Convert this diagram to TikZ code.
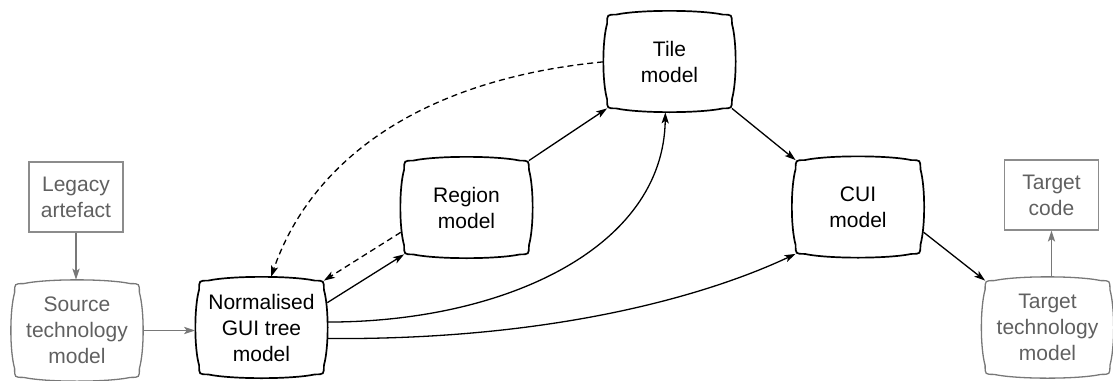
\documentclass[tikz,border=0pt]{standalone}
\usepackage{fontspec}
\setmainfont{Liberation Sans}
\usetikzlibrary{arrows.meta,calc}

\begin{document}
\begin{tikzpicture}[x=0.5pt, y=-0.5pt,
    every node/.style={font=\fontsize{10.5}{13}\selectfont, align=center},
    model/.style={minimum width=62pt, minimum height=46.5pt, inner sep=0pt},
    artefact/.style={draw=boxgray, line width=0.6pt, text=textgray,
        minimum width=47pt, minimum height=35pt, inner sep=0pt},
    flow/.style={line width=0.65pt, -{Stealth[length=5.5pt, width=3.6pt, inset=1.3pt]}},
    feedback/.style={flow, dash pattern=on 3pt off 2pt},
    grayflow/.style={flow, draw=linegray, fill=linegray}]
    % Define colors
    \definecolor{textgray}{RGB}{96,96,96}
    \definecolor{linegray}{RGB}{120,120,120}
    \definecolor{boxgray}{RGB}{140,140,140}

    \useasboundingbox (0,0) rectangle (1113,380);

    % Artefacts at both ends
    \node[artefact] (legacy) at (76,197) {Legacy\\artefact};
    \node[artefact] (code) at (1051.5,195) {Target\\code};

    % Models
    \node[model, text=textgray] (src) at (77,330.5) {Source\\technology\\model};
    \node[model] (ngt) at (261.5,327.5) {Normalised\\GUI tree\\model};
    \node[model] (reg) at (466.5,207.5) {Region\\model};
    \node[model] (tile) at (669.5,61.5) {Tile\\model};
    \node[model] (cui) at (858,207) {CUI\\model};
    \node[model, text=textgray] (tgt) at (1047.5,327.5) {Target\\technology\\model};

    % Cushion outlines round the models
    \foreach \n/\col/\lw in {src/linegray/0.65pt, ngt/black/0.85pt, reg/black/0.85pt,
                            tile/black/0.85pt, cui/black/0.85pt, tgt/linegray/0.65pt}
      \draw[draw=\col, line width=\lw]
        ($(\n.north west)+(0,9)$) .. controls (\n.north west) .. ($(\n.north west)+(9,0)$)
        .. controls ($(\n.north)+(-30,-5)$) and ($(\n.north)+(30,-5)$) .. ($(\n.north east)+(-9,0)$)
        .. controls (\n.north east) .. ($(\n.north east)+(0,9)$)
        .. controls ($(\n.east)+(5,-20)$) and ($(\n.east)+(5,20)$) .. ($(\n.south east)+(0,-9)$)
        .. controls (\n.south east) .. ($(\n.south east)+(-9,0)$)
        .. controls ($(\n.south)+(30,5)$) and ($(\n.south)+(-30,5)$) .. ($(\n.south west)+(9,0)$)
        .. controls (\n.south west) .. ($(\n.south west)+(0,-9)$)
        .. controls ($(\n.west)+(-5,20)$) and ($(\n.west)+(-5,-20)$) .. ($(\n.north west)+(0,9)$)
        -- cycle;

    % Gray connectors (outside the chain)
    \draw[grayflow, shorten >=2pt] (legacy.south) -- (legacy.south |- src.north);
    \draw[grayflow, shorten <=2pt, shorten >=2pt] (src.east) -- (src.east -| ngt.west);
    \draw[grayflow, shorten <=2pt] (code.south |- tgt.north) -- (code.south);

    % Main transformation chain
    \draw[flow, shorten <=2pt] (ngt.20) -- (reg.south west);
    \draw[flow] (reg.north east) -- (tile.south west);
    \draw[flow] (tile.south east) -- (cui.north west);
    \draw[flow, shorten <=2pt] (cui.-20) -- (tgt.north west);
    \draw[flow, shorten <=2pt, shorten >=2pt] (ngt.5) .. controls +(180,0) and +(-2,140) .. (tile.265);
    \draw[flow, shorten <=2pt] (ngt.-10) .. controls +(276,2) and +(-46,21.5) .. (cui.south west);

    % Feedback (dashed)
    \draw[feedback, shorten <=2pt] (reg.200) -- (ngt.north east);
    \draw[feedback, shorten <=2pt, shorten >=2pt] (tile.west) .. controls +(-192,18.5) and +(40,-116) .. (ngt.80);
\end{tikzpicture}
\end{document}
